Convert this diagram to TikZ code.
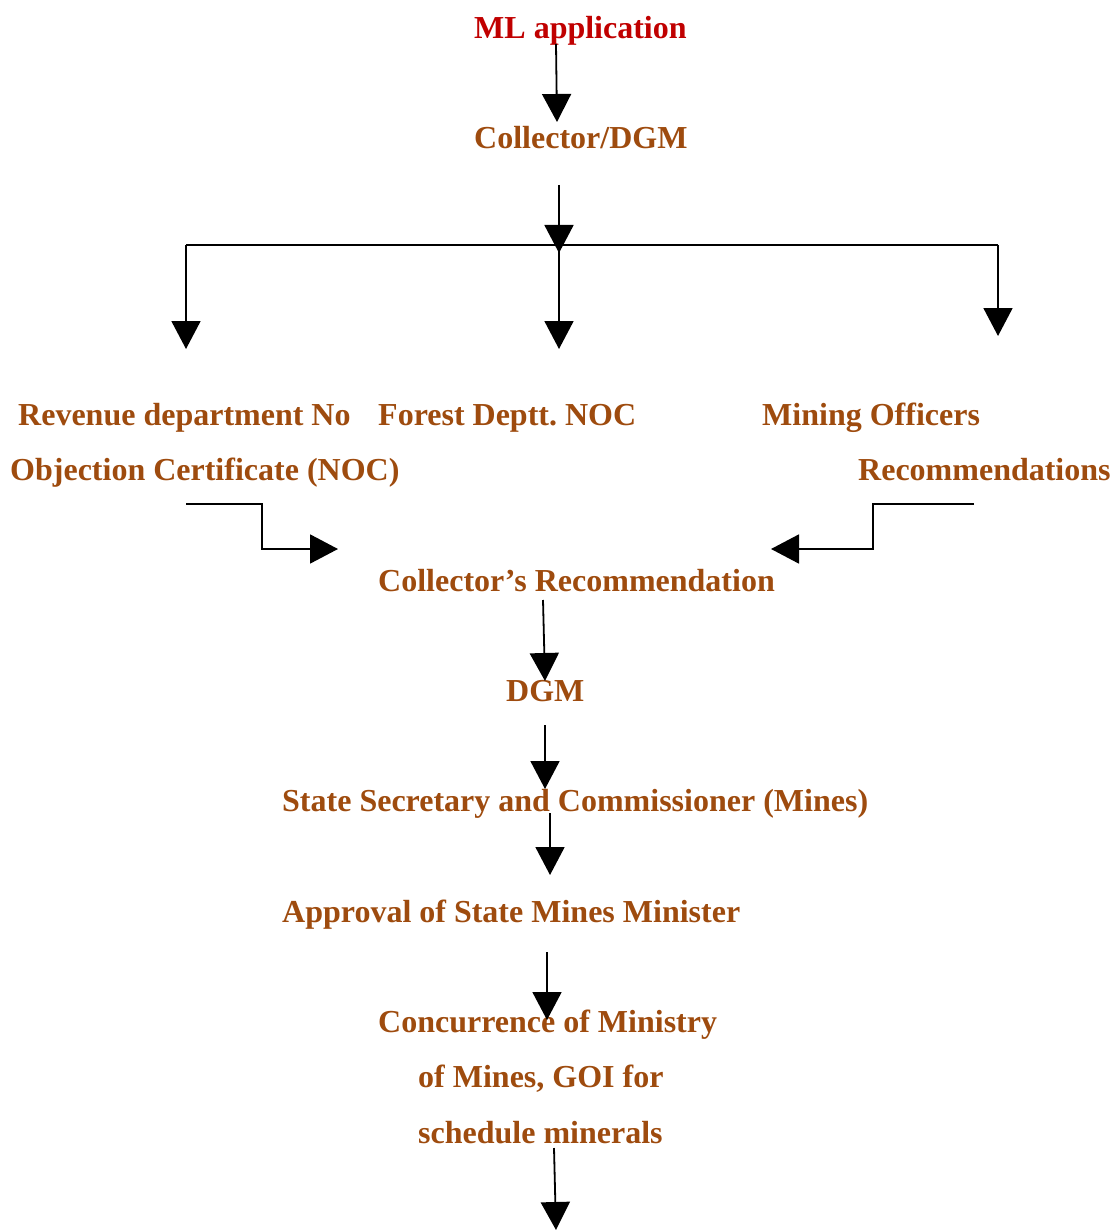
\documentclass[tikz,border=0pt]{standalone}
\usepackage{fontspec}
\setmainfont{Liberation Serif}
\usetikzlibrary{arrows.meta}
\definecolor{mlred}{RGB}{192,0,0}
\definecolor{brn}{RGB}{158,75,14}
\frenchspacing
\begin{document}
\begin{tikzpicture}[x=1pt,y=-1pt,
  lbl/.style={inner sep=0pt,font=\fontsize{32}{38}\selectfont\bfseries,text=brn,anchor=base west},
  arr/.style={line width=1.8pt,-{Triangle[width=29pt,length=28pt]}},
  ln/.style={line width=1.8pt}]
\useasboundingbox (0,0) rectangle (1114,1230);
% texts
\node[lbl,text=mlred] (ml) at (474,39) {ML application};
\node[lbl] (cd) at (474,149) {Collector/DGM};
\node[lbl] (rev1) at (18,425) {Revenue department No};
\node[lbl] (rev2) at (10,480) {Objection Certificate (NOC)};
\node[lbl] (forest) at (378,425) {Forest Deptt.\ NOC};
\node[lbl] (mo1) at (762,425) {Mining Officers};
\node[lbl] (mo2) at (858,480) {Recommendations};
\node[lbl] (crec) at (378,591) {Collector’s Recommendation};
\node[lbl] (dgm) at (506,701) {DGM};
\node[lbl] (ssc) at (282,811) {State Secretary and Commissioner (Mines)};
\node[lbl] (appr) at (282,922) {Approval of State Mines Minister};
\node[lbl] (con1) at (378,1032) {Concurrence of Ministry};
\node[lbl] (con2) at (418,1087) {of Mines, GOI for};
\node[lbl] (con3) at (418,1143) {schedule minerals};
% connector points
\coordinate (a1s) at (556,44);  \coordinate (a1e) at (557,122);
\coordinate (a2s) at (559,185); \coordinate (a2e) at (559,253);
\coordinate (hl) at (186,245);  \coordinate (hm) at (559,245); \coordinate (hr) at (998,245);
\coordinate (dl) at (186,349);  \coordinate (dm) at (559,349); \coordinate (dr) at (998,336);
\coordinate (el1) at (186,504); \coordinate (el2) at (262,504); \coordinate (el3) at (262,549); \coordinate (el4) at (338,549);
\coordinate (er1) at (974,504); \coordinate (er2) at (873,504); \coordinate (er3) at (873,549); \coordinate (er4) at (771,549);
\coordinate (b1s) at (543,600); \coordinate (b1e) at (545,681);
\coordinate (b2s) at (545,725); \coordinate (b2e) at (545,789);
\coordinate (b3s) at (550,813); \coordinate (b3e) at (550,875);
\coordinate (b4s) at (547,952); \coordinate (b4e) at (547,1020);
\coordinate (b5s) at (554,1148); \coordinate (b5e) at (556,1230);
% connectors
\draw[arr] (a1s) -- (a1e);
\draw[ln] (hl) -- (hr);
\draw[arr] (a2s) -- (a2e);
\draw[arr] (hl) -- (dl);
\draw[arr] (hm) -- (dm);
\draw[arr] (hr) -- (dr);
\draw[arr] (el1) -- (el2) -- (el3) -- (el4);
\draw[arr] (er1) -- (er2) -- (er3) -- (er4);
\draw[arr] (b1s) -- (b1e);
\draw[arr] (b2s) -- (b2e);
\draw[arr] (b3s) -- (b3e);
\draw[arr] (b4s) -- (b4e);
\draw[arr] (b5s) -- (b5e);
\end{tikzpicture}
\end{document}
